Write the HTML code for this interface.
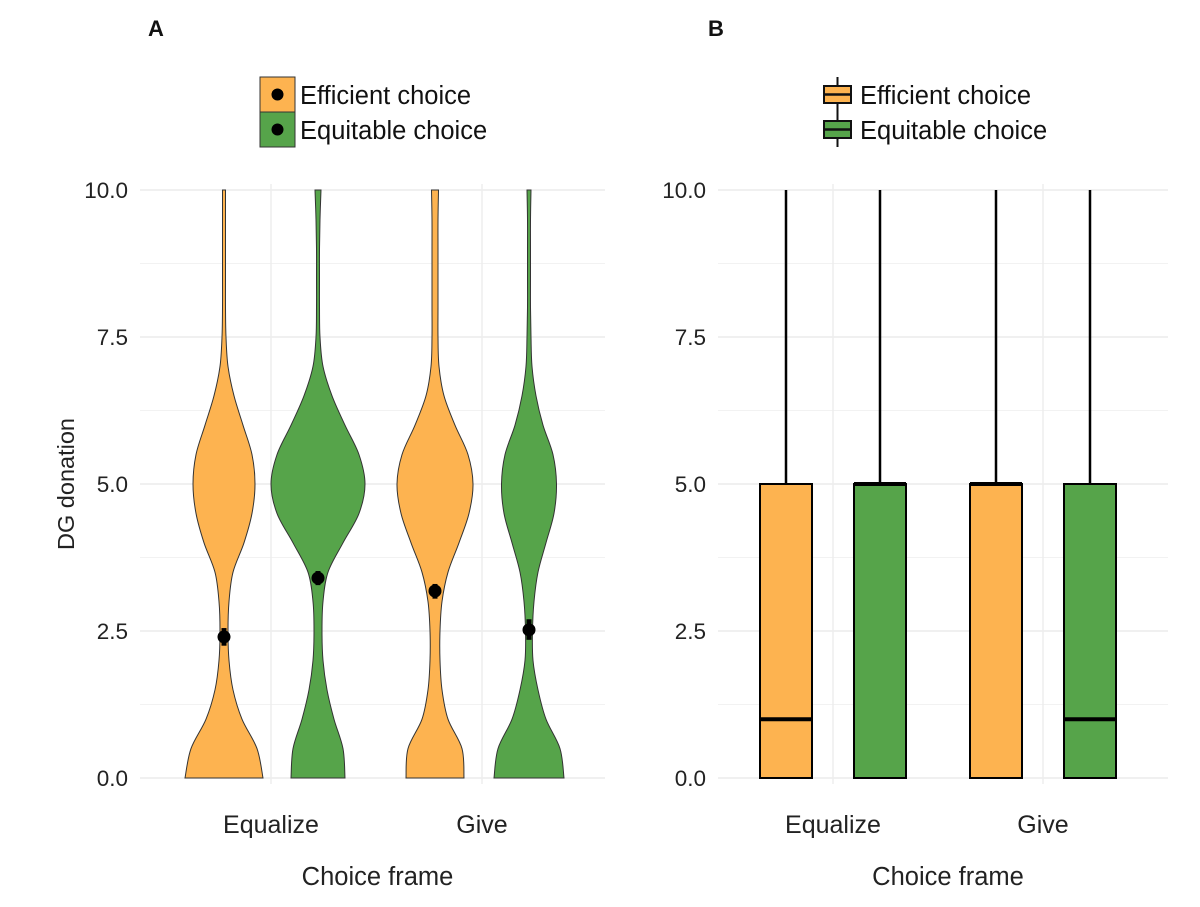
<!DOCTYPE html>
<html><head><meta charset="utf-8"><style>
html,body{margin:0;padding:0;background:#fff;}
svg{display:block;font-family:"Liberation Sans",sans-serif;}
</style></head><body>
<svg id="chart" width="1200" height="907" viewBox="0 0 1200 907" xmlns="http://www.w3.org/2000/svg"></svg>
<script>
const categories = ["Equalize","Give"];
const groups = ["Efficient choice","Equitable choice"];
const yTicks = [0,2.5,5,7.5,10];
const yTickLabels = ["0.0","2.5","5.0","7.5","10.0"];
const densityGrid = [0,0.5,1,1.5,2,2.5,3,3.5,4,4.5,5,5.5,6,6.5,7,7.5,8,8.5,9,9.5,10];
const densEffEqualize = [39,33,18,9,5,4,5,9,20,28,31,28,19,10,4,2,1.5,1.5,1.5,1.5,1.5];
const densEquEqualize = [27,25,16,9,5,4,5,10,25,41,47,41,27,14,5,2,1.5,1.5,1.5,2,3];
const densEffGive = [29,27,13,7,5,5,7,13,24,34,38,33,20,9,4,3,3,3,3,3,3.5];
const densEquGive = [35,31,17,9,4,3.5,5,9,17,25,27.5,24,14,7,3,2,1.5,1.5,1.5,1.5,2];
const meanValues = [[2.4,3.4],[3.18,2.52]];
const errLow = [[2.25,3.28],[3.05,2.35]];
const errHigh = [[2.55,3.52],[3.3,2.7]];
const boxMin = [[0,0],[0,0]];
const boxQ1 = [[0,0],[0,0]];
const boxMed = [[1,5],[5,1]];
const boxQ3 = [[5,5],[5,5]];
const boxMax = [[10,10],[10,10]];
const colors = ["#FDB350","#56A44A"];

const NS="http://www.w3.org/2000/svg";
const svg=document.getElementById('chart');
function mk(tag,attrs,parent){const e=document.createElementNS(NS,tag);for(const k in attrs)e.setAttribute(k,attrs[k]);(parent||svg).appendChild(e);return e;}
const y0=778,y10=190;
function yS(v){return y0+(y10-y0)*v/10;}

function panel(px0,px1,catX,label,labelX,legX,isBox){
  const g=mk('g',{});
  
  
  for(let i=0;i<=8;i++){
    const v=i*1.25;
    const l=mk('line',{x1:px0,x2:px1,y1:yS(v),y2:yS(v),stroke:i%2?'#f2f2f2':'#e8e8e8','stroke-width':i%2?1:1.3},g);
    
    
  }
  categories.forEach((c,ci)=>{
    const l=mk('line',{x1:catX(ci),x2:catX(ci),y1:y10-6,y2:y0+6,stroke:'#ececec','stroke-width':1.3},g);
    
    
    const t=mk('text',{x:catX(ci),y:833,'font-size':25,'text-anchor':'middle',fill:'#222'},g);
    t.textContent=c;
    
    
  });
  yTicks.forEach((v,i)=>{
    const t=mk('text',{x:px0-12,y:yS(v)+8,'font-size':22.5,'text-anchor':'end',fill:'#222'},g);
    t.textContent=yTickLabels[i];
    
    
  });
  const xt=mk('text',{x:(px0+px1)/2+5,y:885,'font-size':25.5,'text-anchor':'middle',fill:'#222'},g);
  xt.textContent='Choice frame';
  
  
  const tt=mk('text',{x:labelX,y:36,'font-size':22,'font-weight':'bold',fill:'#111'},g);
  tt.textContent=label;
  
  
  groups.forEach((gName,gi)=>{
    const ky=77+gi*35;
    if(isBox){
      mk('line',{x1:legX+17.5,x2:legX+17.5,y1:ky,y2:ky+35,stroke:'#111','stroke-width':2},g);
      const r=mk('rect',{x:legX+4,y:ky+9,width:27,height:17,fill:colors[gi],stroke:'#111','stroke-width':2},g);
      
      
      mk('line',{x1:legX+4,x2:legX+31,y1:ky+17.5,y2:ky+17.5,stroke:'#111','stroke-width':2.5},g);
    } else {
      const r=mk('rect',{x:legX,y:ky,width:35,height:35,fill:colors[gi],stroke:'#333','stroke-width':1},g);
      
      
      mk('circle',{cx:legX+17.5,cy:ky+17.5,r:6,fill:'#000'},g);
    }
    const lt=mk('text',{x:legX+40,y:ky+27,'font-size':25.5,fill:'#111'},g);
    lt.textContent=gName;
    
    
  });
  return g;
}

const catA=ci=>[271,482][ci];
const gA=panel(140,605,catA,'A',148,260,false);
const yl=mk('text',{x:0,y:0,'font-size':23.5,'text-anchor':'middle',fill:'#222',transform:'translate(74,484) rotate(-90)'});
yl.textContent='DG donation';


const dens=[[densEffEqualize,densEquEqualize],[densEffGive,densEquGive]];
function wS(d){return d;}
function side(arr){let s='';for(let i=0;i<arr.length-1;i++){const p0=arr[Math.max(0,i-1)],p1=arr[i],p2=arr[i+1],p3=arr[Math.min(arr.length-1,i+2)];
  s+=` C${p1[0]+(p2[0]-p0[0])/6},${p1[1]+(p2[1]-p0[1])/6} ${p2[0]-(p3[0]-p1[0])/6},${p2[1]-(p3[1]-p1[1])/6} ${p2[0]},${p2[1]}`;}return s;}
categories.forEach((c,ci)=>{
  groups.forEach((gn,gi)=>{
    const cx=catA(ci)+(gi?47:-47);
    const d=dens[ci][gi];
    const right=densityGrid.map((v,k)=>[cx+wS(d[k]),yS(v)]);
    const left=densityGrid.map((v,k)=>[cx-wS(d[k]),yS(v)]).reverse();
    const dstr=`M${right[0][0]},${right[0][1]}`+side(right)+` L${left[0][0]},${left[0][1]}`+side(left)+'Z';
    const p=mk('path',{d:dstr,fill:colors[gi],stroke:'#333','stroke-width':1},gA);
    
    
    const e=mk('line',{x1:cx,x2:cx,y1:yS(errLow[ci][gi]),y2:yS(errHigh[ci][gi]),stroke:'#000','stroke-width':5},gA);
    
    
    const m=mk('circle',{cx:cx,cy:yS(meanValues[ci][gi]),r:6.5,fill:'#000'},gA);
    
    
  });
});

const catB=ci=>[833,1043][ci];
const gB=panel(718,1168,catB,'B',708,820,true);
categories.forEach((c,ci)=>{
  groups.forEach((gn,gi)=>{
    const cx=catB(ci)+(gi?47:-47);
    const hw=26;
    const w=mk('line',{x1:cx,x2:cx,y1:yS(boxQ3[ci][gi]),y2:yS(boxMax[ci][gi]),stroke:'#000','stroke-width':2.5},gB);
    
    
    const b=mk('rect',{x:cx-hw,y:yS(boxQ3[ci][gi]),width:2*hw,height:yS(boxQ1[ci][gi])-yS(boxQ3[ci][gi]),fill:colors[gi],stroke:'#000','stroke-width':2},gB);
    
    
    const md=mk('line',{x1:cx-hw,x2:cx+hw,y1:yS(boxMed[ci][gi]),y2:yS(boxMed[ci][gi]),stroke:'#000','stroke-width':4},gB);
    
    
  });
});
</script>
</body></html>
